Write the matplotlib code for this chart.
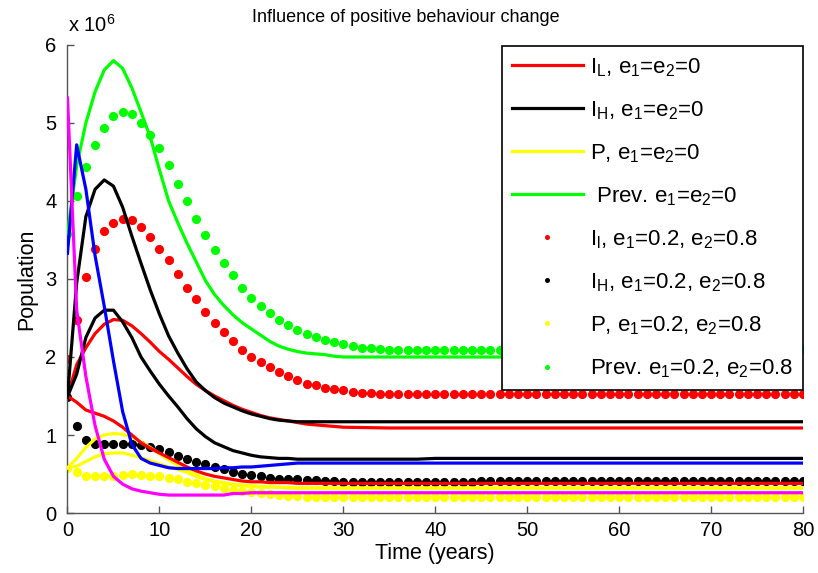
import matplotlib
matplotlib.use("Agg")
import matplotlib.pyplot as plt
import numpy as np

plt.rcParams['font.family'] = ['Liberation Sans', 'DejaVu Sans']
plt.rcParams['mathtext.fontset'] = 'custom'
plt.rcParams['mathtext.rm'] = 'Liberation Sans'

# ---- data (population in millions) ----
years = list(range(0, 81))
t_line = list(range(0, 31)) + [35, 38, 40, 50, 60, 70, 80]

# lines, e1 = e2 = 0
red_line = [1.50, 1.90, 2.12, 2.30, 2.42, 2.48, 2.47, 2.40, 2.30, 2.19, 2.07, 1.97, 1.86, 1.75, 1.65, 1.57,
            1.50, 1.44, 1.38, 1.33, 1.29, 1.25, 1.22, 1.20, 1.18, 1.16, 1.14, 1.13, 1.12, 1.11, 1.10,
            1.09, 1.09, 1.09, 1.09, 1.09, 1.09, 1.09]
black_line = [1.49, 2.95, 3.80, 4.15, 4.27, 4.19, 3.92, 3.55, 3.20, 2.86, 2.55, 2.27, 2.05, 1.85, 1.68, 1.57,
              1.48, 1.41, 1.36, 1.31, 1.27, 1.24, 1.21, 1.19, 1.18, 1.17, 1.17, 1.17, 1.17, 1.17, 1.17,
              1.17, 1.17, 1.17, 1.17, 1.17, 1.17, 1.17]
yellow_line = [0.58, 0.70, 0.84, 0.95, 1.00, 1.02, 1.01, 0.97, 0.91, 0.84, 0.76, 0.68, 0.61, 0.55, 0.49, 0.44,
               0.41, 0.39, 0.37, 0.36, 0.35, 0.34, 0.34, 0.33, 0.33, 0.32, 0.32, 0.32, 0.32, 0.32, 0.32,
               0.32, 0.32, 0.32, 0.32, 0.32, 0.32, 0.32]
green_line = [3.58, 4.45, 5.00, 5.40, 5.68, 5.80, 5.70, 5.45, 5.14, 4.82, 4.40, 4.00, 3.72, 3.46, 3.22, 2.98,
              2.80, 2.66, 2.54, 2.44, 2.36, 2.28, 2.20, 2.14, 2.10, 2.07, 2.05, 2.04, 2.03, 2.01, 2.00,
              2.00, 2.00, 2.00, 2.00, 2.00, 2.00, 2.00]

# other (unlabelled) curves
red_line2 = [1.50, 1.42, 1.32, 1.28, 1.24, 1.18, 1.10, 1.00, 0.90, 0.83, 0.77, 0.71, 0.65, 0.59, 0.54, 0.50,
             0.47, 0.45, 0.43, 0.41, 0.40, 0.40, 0.39, 0.39, 0.39, 0.38, 0.38, 0.38, 0.38, 0.38, 0.38,
             0.38, 0.38, 0.38, 0.38, 0.38, 0.38, 0.38]
black_line2 = [1.49, 1.78, 2.25, 2.50, 2.60, 2.60, 2.45, 2.25, 2.00, 1.82, 1.65, 1.50, 1.36, 1.21, 1.08, 0.98,
               0.90, 0.85, 0.80, 0.77, 0.74, 0.72, 0.71, 0.70, 0.70, 0.69, 0.69, 0.69, 0.69, 0.69, 0.69,
               0.69, 0.69, 0.70, 0.70, 0.70, 0.70, 0.70]
yellow_line2 = [0.58, 0.60, 0.66, 0.72, 0.76, 0.77, 0.77, 0.74, 0.71, 0.67, 0.63, 0.59, 0.56, 0.52, 0.47, 0.43,
                0.40, 0.38, 0.36, 0.35, 0.34, 0.33, 0.33, 0.33, 0.32, 0.32, 0.32, 0.32, 0.32, 0.32, 0.32,
                0.32, 0.32, 0.32, 0.32, 0.32, 0.32, 0.32]
blue_line = [3.33, 4.72, 4.15, 3.30, 2.65, 1.95, 1.30, 0.88, 0.70, 0.64, 0.61, 0.58, 0.57, 0.57, 0.57, 0.57,
             0.57, 0.58, 0.58, 0.59, 0.59, 0.60, 0.61, 0.62, 0.63, 0.64, 0.64, 0.64, 0.64, 0.64, 0.64,
             0.64, 0.64, 0.64, 0.64, 0.64, 0.64, 0.64]
magenta_line = [5.32, 2.60, 1.75, 1.12, 0.69, 0.47, 0.37, 0.31, 0.28, 0.26, 0.24, 0.23, 0.23, 0.23, 0.23, 0.23,
                0.23, 0.23, 0.25, 0.25, 0.26, 0.26, 0.26, 0.26, 0.26, 0.26, 0.26, 0.26, 0.26, 0.26, 0.26,
                0.26, 0.26, 0.26, 0.26, 0.26, 0.26, 0.26]

# dots, e1 = 0.2, e2 = 0.8
red_dots = [1.98, 2.47, 3.03, 3.39, 3.62, 3.72, 3.77, 3.75, 3.67, 3.54, 3.39, 3.24, 3.07, 2.89, 2.74, 2.58,
            2.44, 2.32, 2.21, 2.09, 2.00, 1.94, 1.87, 1.81, 1.76, 1.71, 1.66, 1.64, 1.60, 1.59, 1.58,
            1.55, 1.54, 1.54, 1.53, 1.52, 1.52, 1.52, 1.52, 1.52, 1.52, 1.52, 1.52, 1.52, 1.52, 1.52,
            1.52, 1.52, 1.52, 1.52, 1.52, 1.52, 1.52, 1.52, 1.52, 1.52, 1.52, 1.52, 1.52, 1.52, 1.52,
            1.52, 1.52, 1.52, 1.52, 1.52, 1.52, 1.52, 1.52, 1.52, 1.52, 1.52, 1.52, 1.52, 1.52, 1.52,
            1.52, 1.52, 1.52, 1.52, 1.52]
black_dots = [1.49, 1.12, 0.93, 0.89, 0.89, 0.89, 0.89, 0.89, 0.87, 0.85, 0.82, 0.78, 0.73, 0.69, 0.65, 0.63,
              0.59, 0.56, 0.53, 0.50, 0.49, 0.47, 0.45, 0.44, 0.43, 0.43, 0.42, 0.42, 0.41, 0.41, 0.40,
              0.40, 0.40, 0.40, 0.40, 0.40, 0.40, 0.40, 0.40, 0.40, 0.40, 0.40, 0.40, 0.40, 0.40, 0.41,
              0.41, 0.41, 0.41, 0.41, 0.41, 0.41, 0.41, 0.41, 0.41, 0.41, 0.41, 0.41, 0.41, 0.41, 0.41,
              0.41, 0.41, 0.41, 0.41, 0.41, 0.41, 0.41, 0.41, 0.41, 0.41, 0.41, 0.41, 0.41, 0.41, 0.41,
              0.41, 0.41, 0.41, 0.41, 0.41]
yellow_dots = [0.58, 0.52, 0.47, 0.47, 0.47, 0.47, 0.49, 0.50, 0.49, 0.48, 0.47, 0.45, 0.43, 0.40, 0.38, 0.36,
               0.34, 0.32, 0.29, 0.28, 0.27, 0.26, 0.24, 0.23, 0.22, 0.22, 0.21, 0.21, 0.21, 0.21, 0.21,
               0.21, 0.21, 0.21, 0.21, 0.21, 0.21, 0.21, 0.21, 0.21, 0.21, 0.21, 0.21, 0.21, 0.21, 0.21,
               0.21, 0.21, 0.21, 0.21, 0.21, 0.21, 0.21, 0.21, 0.21, 0.21, 0.21, 0.21, 0.21, 0.21, 0.21,
               0.21, 0.21, 0.21, 0.21, 0.21, 0.21, 0.21, 0.21, 0.21, 0.21, 0.21, 0.21, 0.21, 0.21, 0.21,
               0.21, 0.21, 0.21, 0.21, 0.21]
green_dots = [3.58, 4.07, 4.44, 4.72, 4.94, 5.09, 5.14, 5.12, 5.00, 4.85, 4.68, 4.46, 4.22, 4.00, 3.77, 3.57,
              3.37, 3.20, 3.05, 2.89, 2.76, 2.65, 2.57, 2.47, 2.41, 2.35, 2.30, 2.26, 2.22, 2.19, 2.17,
              2.14, 2.12, 2.11, 2.10, 2.09, 2.09, 2.09, 2.09, 2.09, 2.09, 2.09, 2.09, 2.09, 2.09, 2.09,
              2.09, 2.09, 2.09, 2.09, 2.09, 2.09, 2.09, 2.09, 2.09, 2.09, 2.09, 2.09, 2.09, 2.09, 2.09,
              2.09, 2.09, 2.09, 2.09, 2.09, 2.09, 2.09, 2.09, 2.09, 2.09, 2.09, 2.09, 2.09, 2.09, 2.09,
              2.09, 2.09, 2.09, 2.10, 2.10]

legend_labels = [
    r"I$_\mathregular{L}$, e$_\mathregular{1}$=e$_\mathregular{2}$=0",
    r"I$_\mathregular{H}$, e$_\mathregular{1}$=e$_\mathregular{2}$=0",
    r"P, e$_\mathregular{1}$=e$_\mathregular{2}$=0",
    r" Prev. e$_\mathregular{1}$=e$_\mathregular{2}$=0",
    r"I$_\mathregular{l}$, e$_\mathregular{1}$=0.2, e$_\mathregular{2}$=0.8",
    r"I$_\mathregular{H}$, e$_\mathregular{1}$=0.2, e$_\mathregular{2}$=0.8",
    r"P, e$_\mathregular{1}$=0.2, e$_\mathregular{2}$=0.8",
    r"Prev. e$_\mathregular{1}$=0.2, e$_\mathregular{2}$=0.8",
]

SCALE = 1e6
RED, BLACK, YELLOW, GREEN, BLUE, MAGENTA = '#ff0000', '#000000', '#ffff00', '#00ff00', '#0000ff', '#ff00ff'
LW = 2.3
MS = 6.6

fig = plt.figure(figsize=(8.18, 5.73), dpi=100)
ax = fig.add_axes([0.0825, 0.1047, 0.8992, 0.8168])

def sc(v):
    return np.asarray(v) * SCALE

h1, = ax.plot(t_line, sc(red_line), color=RED, lw=LW, zorder=3)
h2, = ax.plot(t_line, sc(black_line), color=BLACK, lw=LW, zorder=3)
h3, = ax.plot(t_line, sc(yellow_line), color=YELLOW, lw=LW, zorder=3)
h4, = ax.plot(t_line, sc(green_line), color=GREEN, lw=LW, zorder=3)

ax.plot(t_line, sc(red_line2), color=RED, lw=LW, zorder=3)
ax.plot(t_line, sc(black_line2), color=BLACK, lw=LW, zorder=3)
ax.plot(t_line, sc(yellow_line2), color=YELLOW, lw=LW, zorder=3)
ax.plot(t_line, sc(blue_line), color=BLUE, lw=LW, zorder=3)
ax.plot(t_line, sc(magenta_line), color=MAGENTA, lw=LW, zorder=3)

h5, = ax.plot(years, sc(red_dots), 'o', color=RED, ms=MS, mec='none', zorder=2)
h6, = ax.plot(years, sc(black_dots), 'o', color=BLACK, ms=MS, mec='none', zorder=2)
h7, = ax.plot(years, sc(yellow_dots), 'o', color=YELLOW, ms=MS, mec='none', zorder=2)
h8, = ax.plot(years, sc(green_dots), 'o', color=GREEN, ms=MS, mec='none', zorder=2)

ax.set_xlim(0, 80)
ax.set_ylim(0, 6e6)
ax.set_xticks(range(0, 81, 10))
ax.set_yticks([i * 1e6 for i in range(0, 7)])
ax.set_yticklabels([str(i) for i in range(0, 7)])

for s in ['top', 'right']:
    ax.spines[s].set_visible(False)
for s in ['left', 'bottom']:
    ax.spines[s].set_color('#555555')
    ax.spines[s].set_linewidth(1.0)
ax.tick_params(direction='in', length=5, width=1.0, colors='#555555', labelcolor='black', labelsize=14.5)
ax.tick_params(axis='x', pad=6)
ax.tick_params(axis='y', pad=8)

ax.set_xlabel('Time (years)', fontsize=15.5, labelpad=2)
ax.set_ylabel('Population', fontsize=15.5, labelpad=6)
fig.text(406 / 818, 1 - 18 / 573, 'Influence of positive behaviour change', ha='center', va='center', fontsize=13)
fig.text(68 / 818, 1 - 25 / 573, r'x 10$^{6}$', ha='left', va='center', fontsize=14.5)

leg = ax.legend([h1, h2, h3, h4, h5, h6, h7, h8], legend_labels, loc='upper right',
                bbox_to_anchor=(803 / 818, 1 - 46 / 573), bbox_transform=fig.transFigure,
                fontsize=16, frameon=True, fancybox=False, edgecolor='black', framealpha=1,
                handlelength=3.2, handletextpad=0.32, labelspacing=0.92, borderpad=0.45,
                markerscale=0.55, borderaxespad=0)
leg.get_frame().set_linewidth(1.2)

fig.savefig('out.png', dpi=100)
